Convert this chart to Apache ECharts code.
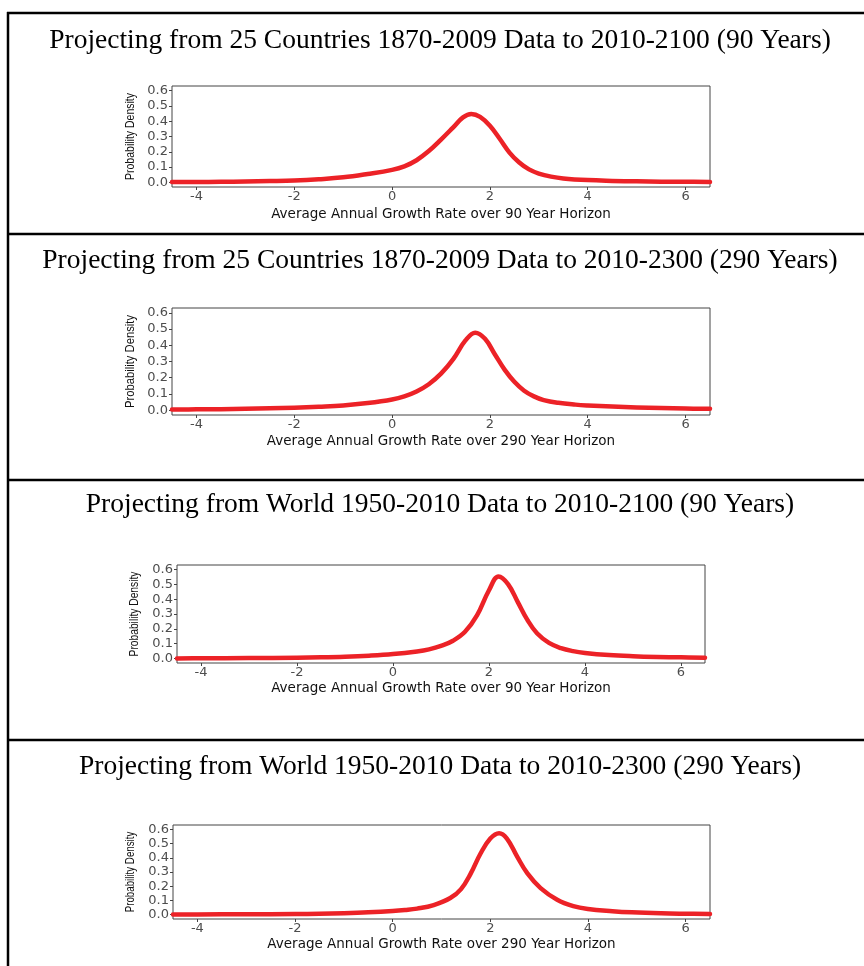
<!DOCTYPE html>
<html>
<head>
<meta charset="utf-8">
<script src="https://cdn.jsdelivr.net/npm/echarts@6/dist/echarts.min.js"></script>
<style>
  html, body { margin: 0; padding: 0; background: #fff; }
  #chart { width: 864px; height: 966px; }
</style>
</head>
<body>
<div id="chart"></div>
<script>
// Panel headings
const panelTitles = [
  'Projecting from 25 Countries 1870-2009 Data to 2010-2100 (90 Years)',
  'Projecting from 25 Countries 1870-2009 Data to 2010-2300 (290 Years)',
  'Projecting from World 1950-2010 Data to 2010-2100 (90 Years)',
  'Projecting from World 1950-2010 Data to 2010-2300 (290 Years)'
];
const xAxisTitles = [
  'Average Annual Growth Rate over 90 Year Horizon',
  'Average Annual Growth Rate over 290 Year Horizon',
  'Average Annual Growth Rate over 90 Year Horizon',
  'Average Annual Growth Rate over 290 Year Horizon'
];
const yAxisTitle = 'Probability Density';
const xTicks = [-4, -2, 0, 2, 4, 6];
const yTicks = [0, 0.1, 0.2, 0.3, 0.4, 0.5, 0.6];

// Density curves: growth rate (x) and density (y)
const growth1 = [-4.5, -4, -3.5, -3, -2.5, -2, -1.5, -1, -0.5, 0, 0.25, 0.5, 0.75, 1.0, 1.25, 1.45, 1.62, 1.8, 2.0, 2.2, 2.4, 2.6, 2.8, 3.0, 3.25, 3.5, 4.0, 4.5, 5.0, 5.5, 6.0, 6.5];
const density1 = [0.002, 0.003, 0.004, 0.006, 0.009, 0.013, 0.021, 0.033, 0.055, 0.082, 0.105, 0.145, 0.205, 0.28, 0.36, 0.425, 0.447, 0.428, 0.37, 0.285, 0.195, 0.13, 0.085, 0.058, 0.038, 0.026, 0.015, 0.01, 0.007, 0.005, 0.004, 0.003];

const growth2 = [-4.5, -4, -3.5, -3, -2.5, -2, -1.5, -1, -0.5, 0, 0.25, 0.5, 0.75, 1.0, 1.25, 1.5, 1.7, 1.9, 2.1, 2.3, 2.5, 2.7, 2.9, 3.1, 3.4, 3.75, 4.0, 4.5, 5.0, 5.5, 6.0, 6.5];
const density2 = [0.004, 0.005, 0.006, 0.008, 0.011, 0.015, 0.021, 0.029, 0.044, 0.066, 0.085, 0.115, 0.16, 0.225, 0.315, 0.43, 0.478, 0.44, 0.345, 0.25, 0.175, 0.12, 0.085, 0.062, 0.045, 0.034, 0.029, 0.022, 0.017, 0.013, 0.01, 0.008];

const growth3 = [-4.5, -4, -3, -2, -1.5, -1, -0.5, 0, 0.5, 0.75, 1.0, 1.25, 1.5, 1.75, 2.0, 2.2, 2.4, 2.6, 2.8, 3.0, 3.25, 3.5, 3.75, 4.0, 4.5, 5.0, 5.5, 6.0, 6.5];
const density3 = [0.001, 0.002, 0.003, 0.006, 0.008, 0.012, 0.019, 0.03, 0.048, 0.062, 0.085, 0.12, 0.18, 0.29, 0.46, 0.553, 0.5, 0.38, 0.26, 0.17, 0.105, 0.07, 0.05, 0.038, 0.024, 0.016, 0.011, 0.008, 0.006];

const growth4 = [-4.5, -4, -3, -2, -1.5, -1, -0.5, 0, 0.25, 0.5, 0.84, 1.18, 1.4, 1.6, 1.8, 2.0, 2.18, 2.34, 2.55, 2.76, 3.03, 3.37, 3.7, 4.0, 4.5, 4.9, 5.5, 6.0, 6.5];
const density4 = [0.001, 0.002, 0.003, 0.005, 0.007, 0.011, 0.017, 0.026, 0.033, 0.043, 0.068, 0.117, 0.18, 0.29, 0.43, 0.535, 0.572, 0.535, 0.408, 0.29, 0.187, 0.105, 0.06, 0.04, 0.025, 0.017, 0.01, 0.007, 0.005];

const curves = [
  [growth1, density1],
  [growth2, density2],
  [growth3, density3],
  [growth4, density4]
];

// Layout of each panel: plot rectangle, heading centre, y-title placement
const panels = [
  { left: 172, top: 86,  width: 538, height: 101, titleY: 41,  yTitleX: 131, yTitleScale: 0.84, nameGap: 20 },
  { left: 172, top: 308, width: 538, height: 107, titleY: 261, yTitleX: 131, yTitleScale: 0.90, nameGap: 19 },
  { left: 177, top: 565, width: 528, height: 98,  titleY: 505, yTitleX: 135, yTitleScale: 0.82, nameGap: 18 },
  { left: 173, top: 825, width: 537, height: 94,  titleY: 767, yTitleX: 131, yTitleScale: 0.78, nameGap: 18 }
];

const tickColor = '#4d4d4d';
const lineRed = '#ec2227';
const tickFont = 'DejaVu Sans';

const grids = [], xAxes = [], yAxes = [], series = [], graphics = [];

panels.forEach((p, i) => {
  grids.push({
    left: p.left, top: p.top, width: p.width, height: p.height,
    show: true, borderColor: '#444', borderWidth: 1, backgroundColor: '#fff'
  });
  xAxes.push({
    type: 'value', gridIndex: i, min: -4.5, max: 6.5,
    name: xAxisTitles[i], nameLocation: 'middle', nameGap: p.nameGap,
    nameTextStyle: { fontFamily: tickFont, fontSize: 13.5, color: '#111' },
    axisLine: { show: false, onZero: false },
    splitLine: { show: false },
    axisTick: { show: true, length: 3, customValues: xTicks, lineStyle: { color: '#444' } },
    axisLabel: { customValues: xTicks, margin: 3, fontFamily: tickFont, fontSize: 13, color: tickColor }
  });
  yAxes.push({
    type: 'value', gridIndex: i, min: -0.03, max: 0.63,
    axisLine: { show: false, onZero: false },
    splitLine: { show: false },
    axisTick: { show: true, length: 3, customValues: yTicks, lineStyle: { color: '#444' } },
    axisLabel: {
      customValues: yTicks, margin: 4, fontFamily: tickFont, fontSize: 13, color: tickColor,
      formatter: v => v.toFixed(1)
    }
  });
  const [xs, ys] = curves[i];
  series.push({
    type: 'line', xAxisIndex: i, yAxisIndex: i,
    data: xs.map((x, k) => [x, ys[k]]),
    showSymbol: false, smooth: 0.4,
    lineStyle: { color: lineRed, width: 4.5, cap: 'round', join: 'round' },
    clip: true, silent: true
  });
  // panel heading
  graphics.push({
    type: 'text', x: 440, y: p.titleY,
    style: {
      text: panelTitles[i],
      textAlign: 'center', textVerticalAlign: 'middle',
      font: '27.5px "Liberation Serif", "Times New Roman", serif', fill: '#000'
    }
  });
  // rotated, narrowed y-axis title
  graphics.push({
    type: 'text', x: p.yTitleX, y: p.top + p.height / 2,
    rotation: Math.PI / 2, scaleX: p.yTitleScale,
    style: {
      text: yAxisTitle,
      textAlign: 'center', textVerticalAlign: 'middle',
      font: '12.5px "Liberation Sans", Arial, sans-serif', fill: '#111'
    }
  });
});

// Outer frame and panel dividers
const frameLines = [
  [8, 12, 8, 966],
  [7, 13, 864, 13],
  [7, 234, 864, 234],
  [7, 480, 864, 480],
  [7, 740, 864, 740]
];
frameLines.forEach(([x1, y1, x2, y2]) => {
  graphics.push({
    type: 'line', shape: { x1, y1, x2, y2 },
    style: { stroke: '#000', lineWidth: 2.5 }
  });
});

const chart = echarts.init(document.getElementById('chart'), null, { renderer: 'canvas' });
chart.setOption({
  animation: false,
  backgroundColor: '#fff',
  grid: grids,
  xAxis: xAxes,
  yAxis: yAxes,
  series: series,
  graphic: graphics
});
</script>
</body>
</html>
